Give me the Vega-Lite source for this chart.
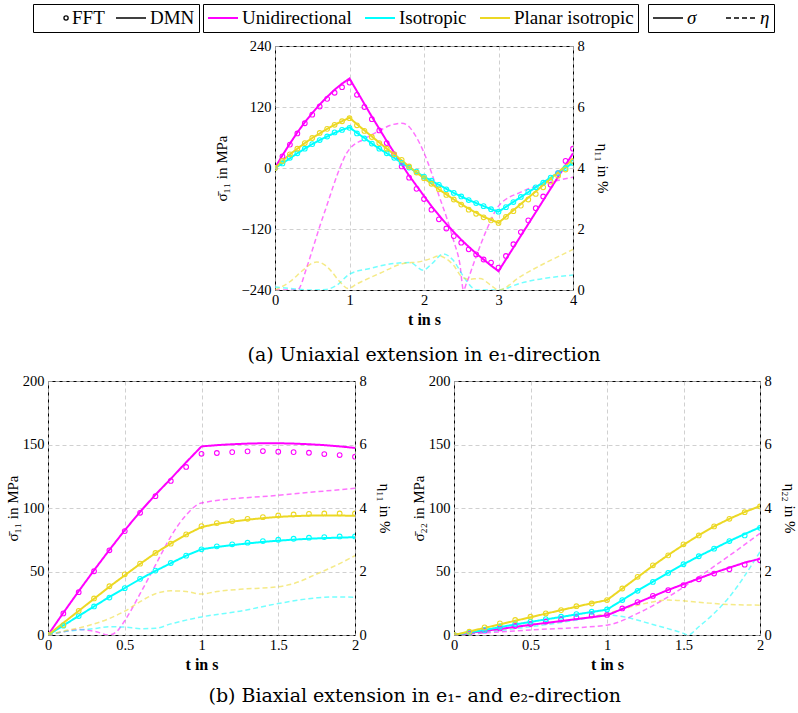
{
"$schema":"https://vega.github.io/schema/vega-lite/v6.json",
"padding":{"left":4,"top":3,"right":0,"bottom":0},
"background":"white",
"config":{
"font":"Liberation Serif",
"view":{"stroke":"black","strokeWidth":1},
"axis":{"labelFont":"Liberation Serif","labelFontSize":14.5,"labelColor":"black","titleFont":"Liberation Serif","titleFontSize":15,"titleFontWeight":"normal","titleColor":"black","domain":false,"ticks":false,"labelPadding":4,"labelFlush":false,"labelOverlap":false,"gridColor":"#c4c4c4","gridDash":[4,3],"gridWidth":0.8},
"legend":{"strokeColor":"black","strokeWidth":1,"padding":4,"clipHeight":20,"labelFont":"Liberation Serif","labelFontSize":19,"labelColor":"black","symbolSize":900,"labelOffset":3,"columnPadding":6,"symbolOpacity":1,"fillColor":"white","labelLimit":0},
"title":{"font":"DejaVu Serif","fontSize":19,"fontWeight":"normal","color":"black"}
},
"datasets":{
"top":[
{"t":0,"v":0,"s":"U","k":"σ"},{"t":0.1,"v":25,"s":"U","k":"σ"},{"t":0.2,"v":48,"s":"U","k":"σ"},{"t":0.3,"v":70,"s":"U","k":"σ"},{"t":0.4,"v":90,"s":"U","k":"σ"},{"t":0.5,"v":108,"s":"U","k":"σ"},{"t":0.6,"v":125,"s":"U","k":"σ"},{"t":0.7,"v":140,"s":"U","k":"σ"},{"t":0.8,"v":154,"s":"U","k":"σ"},{"t":0.9,"v":166,"s":"U","k":"σ"},{"t":1,"v":176,"s":"U","k":"σ"},{"t":1.1,"v":151,"s":"U","k":"σ"},{"t":1.2,"v":126,"s":"U","k":"σ"},{"t":1.3,"v":101,"s":"U","k":"σ"},{"t":1.4,"v":77,"s":"U","k":"σ"},{"t":1.5,"v":53,"s":"U","k":"σ"},{"t":1.6,"v":30,"s":"U","k":"σ"},{"t":1.7,"v":7,"s":"U","k":"σ"},{"t":1.8,"v":-15,"s":"U","k":"σ"},{"t":1.9,"v":-35,"s":"U","k":"σ"},{"t":2,"v":-55,"s":"U","k":"σ"},{"t":2.1,"v":-75,"s":"U","k":"σ"},{"t":2.2,"v":-93,"s":"U","k":"σ"},{"t":2.3,"v":-110,"s":"U","k":"σ"},{"t":2.4,"v":-126,"s":"U","k":"σ"},{"t":2.5,"v":-141,"s":"U","k":"σ"},{"t":2.6,"v":-155,"s":"U","k":"σ"},{"t":2.7,"v":-168,"s":"U","k":"σ"},{"t":2.8,"v":-180,"s":"U","k":"σ"},{"t":2.9,"v":-192,"s":"U","k":"σ"},{"t":3,"v":-203,"s":"U","k":"σ"},{"t":3.5,"v":-87,"s":"U","k":"σ"},{"t":4,"v":29,"s":"U","k":"σ"},
{"t":0,"v":0,"s":"I","k":"σ"},{"t":0.1,"v":9,"s":"I","k":"σ"},{"t":0.2,"v":19,"s":"I","k":"σ"},{"t":0.3,"v":29,"s":"I","k":"σ"},{"t":0.4,"v":38,"s":"I","k":"σ"},{"t":0.5,"v":47,"s":"I","k":"σ"},{"t":0.6,"v":55,"s":"I","k":"σ"},{"t":0.7,"v":62,"s":"I","k":"σ"},{"t":0.8,"v":69,"s":"I","k":"σ"},{"t":0.9,"v":75,"s":"I","k":"σ"},{"t":1,"v":80,"s":"I","k":"σ"},{"t":1.1,"v":69,"s":"I","k":"σ"},{"t":1.2,"v":59,"s":"I","k":"σ"},{"t":1.3,"v":48,"s":"I","k":"σ"},{"t":1.4,"v":38,"s":"I","k":"σ"},{"t":1.5,"v":29,"s":"I","k":"σ"},{"t":1.6,"v":20,"s":"I","k":"σ"},{"t":1.7,"v":10,"s":"I","k":"σ"},{"t":1.8,"v":1,"s":"I","k":"σ"},{"t":1.9,"v":-8,"s":"I","k":"σ"},{"t":2,"v":-17,"s":"I","k":"σ"},{"t":2.1,"v":-25,"s":"I","k":"σ"},{"t":2.2,"v":-33,"s":"I","k":"σ"},{"t":2.3,"v":-41,"s":"I","k":"σ"},{"t":2.4,"v":-49,"s":"I","k":"σ"},{"t":2.5,"v":-56,"s":"I","k":"σ"},{"t":2.6,"v":-63,"s":"I","k":"σ"},{"t":2.7,"v":-69,"s":"I","k":"σ"},{"t":2.8,"v":-75,"s":"I","k":"σ"},{"t":2.9,"v":-81,"s":"I","k":"σ"},{"t":3,"v":-86,"s":"I","k":"σ"},{"t":3.5,"v":-38,"s":"I","k":"σ"},{"t":4,"v":10,"s":"I","k":"σ"},
{"t":0,"v":0,"s":"P","k":"σ"},{"t":0.1,"v":14,"s":"P","k":"σ"},{"t":0.2,"v":27,"s":"P","k":"σ"},{"t":0.3,"v":38,"s":"P","k":"σ"},{"t":0.4,"v":49,"s":"P","k":"σ"},{"t":0.5,"v":59,"s":"P","k":"σ"},{"t":0.6,"v":68,"s":"P","k":"σ"},{"t":0.7,"v":77,"s":"P","k":"σ"},{"t":0.8,"v":85,"s":"P","k":"σ"},{"t":0.9,"v":92,"s":"P","k":"σ"},{"t":1,"v":99,"s":"P","k":"σ"},{"t":1.1,"v":86,"s":"P","k":"σ"},{"t":1.2,"v":74,"s":"P","k":"σ"},{"t":1.3,"v":62,"s":"P","k":"σ"},{"t":1.4,"v":50,"s":"P","k":"σ"},{"t":1.5,"v":38,"s":"P","k":"σ"},{"t":1.6,"v":27,"s":"P","k":"σ"},{"t":1.7,"v":15,"s":"P","k":"σ"},{"t":1.8,"v":3,"s":"P","k":"σ"},{"t":1.9,"v":-9,"s":"P","k":"σ"},{"t":2,"v":-20,"s":"P","k":"σ"},{"t":2.1,"v":-31,"s":"P","k":"σ"},{"t":2.2,"v":-42,"s":"P","k":"σ"},{"t":2.3,"v":-52,"s":"P","k":"σ"},{"t":2.4,"v":-62,"s":"P","k":"σ"},{"t":2.5,"v":-71,"s":"P","k":"σ"},{"t":2.6,"v":-80,"s":"P","k":"σ"},{"t":2.7,"v":-88,"s":"P","k":"σ"},{"t":2.8,"v":-96,"s":"P","k":"σ"},{"t":2.9,"v":-102,"s":"P","k":"σ"},{"t":3,"v":-108,"s":"P","k":"σ"},{"t":3.5,"v":-46,"s":"P","k":"σ"},{"t":4,"v":17,"s":"P","k":"σ"},
{"t":0,"v":0,"s":"U","k":"F"},{"t":0.1,"v":23,"s":"U","k":"F"},{"t":0.2,"v":46,"s":"U","k":"F"},{"t":0.3,"v":68,"s":"U","k":"F"},{"t":0.4,"v":88,"s":"U","k":"F"},{"t":0.5,"v":105,"s":"U","k":"F"},{"t":0.6,"v":121,"s":"U","k":"F"},{"t":0.7,"v":136,"s":"U","k":"F"},{"t":0.8,"v":148,"s":"U","k":"F"},{"t":0.9,"v":159,"s":"U","k":"F"},{"t":1,"v":168,"s":"U","k":"F"},{"t":1.1,"v":144,"s":"U","k":"F"},{"t":1.2,"v":120,"s":"U","k":"F"},{"t":1.3,"v":96,"s":"U","k":"F"},{"t":1.4,"v":74,"s":"U","k":"F"},{"t":1.5,"v":49,"s":"U","k":"F"},{"t":1.6,"v":27,"s":"U","k":"F"},{"t":1.7,"v":3,"s":"U","k":"F"},{"t":1.8,"v":-19,"s":"U","k":"F"},{"t":1.9,"v":-41,"s":"U","k":"F"},{"t":2,"v":-61,"s":"U","k":"F"},{"t":2.1,"v":-82,"s":"U","k":"F"},{"t":2.2,"v":-101,"s":"U","k":"F"},{"t":2.3,"v":-119,"s":"U","k":"F"},{"t":2.4,"v":-134,"s":"U","k":"F"},{"t":2.5,"v":-147,"s":"U","k":"F"},{"t":2.6,"v":-160,"s":"U","k":"F"},{"t":2.7,"v":-170,"s":"U","k":"F"},{"t":2.8,"v":-180,"s":"U","k":"F"},{"t":2.9,"v":-186,"s":"U","k":"F"},{"t":3,"v":-196,"s":"U","k":"F"},{"t":3.1,"v":-173,"s":"U","k":"F"},{"t":3.2,"v":-150,"s":"U","k":"F"},{"t":3.3,"v":-126,"s":"U","k":"F"},{"t":3.4,"v":-103,"s":"U","k":"F"},{"t":3.5,"v":-79,"s":"U","k":"F"},{"t":3.6,"v":-56,"s":"U","k":"F"},{"t":3.7,"v":-33,"s":"U","k":"F"},{"t":3.8,"v":-10,"s":"U","k":"F"},{"t":3.9,"v":14,"s":"U","k":"F"},{"t":4,"v":38,"s":"U","k":"F"},
{"t":0,"v":0,"s":"I","k":"F"},{"t":0.1,"v":9,"s":"I","k":"F"},{"t":0.2,"v":20,"s":"I","k":"F"},{"t":0.3,"v":29,"s":"I","k":"F"},{"t":0.4,"v":38,"s":"I","k":"F"},{"t":0.5,"v":47,"s":"I","k":"F"},{"t":0.6,"v":55,"s":"I","k":"F"},{"t":0.7,"v":62,"s":"I","k":"F"},{"t":0.8,"v":70,"s":"I","k":"F"},{"t":0.9,"v":75,"s":"I","k":"F"},{"t":1,"v":79,"s":"I","k":"F"},{"t":1.1,"v":68,"s":"I","k":"F"},{"t":1.2,"v":58,"s":"I","k":"F"},{"t":1.3,"v":48,"s":"I","k":"F"},{"t":1.4,"v":38,"s":"I","k":"F"},{"t":1.5,"v":29,"s":"I","k":"F"},{"t":1.6,"v":20,"s":"I","k":"F"},{"t":1.7,"v":10,"s":"I","k":"F"},{"t":1.8,"v":1,"s":"I","k":"F"},{"t":1.9,"v":-7,"s":"I","k":"F"},{"t":2,"v":-17,"s":"I","k":"F"},{"t":2.1,"v":-25,"s":"I","k":"F"},{"t":2.2,"v":-33,"s":"I","k":"F"},{"t":2.3,"v":-42,"s":"I","k":"F"},{"t":2.4,"v":-49,"s":"I","k":"F"},{"t":2.5,"v":-56,"s":"I","k":"F"},{"t":2.6,"v":-63,"s":"I","k":"F"},{"t":2.7,"v":-69,"s":"I","k":"F"},{"t":2.8,"v":-75,"s":"I","k":"F"},{"t":2.9,"v":-81,"s":"I","k":"F"},{"t":3,"v":-86,"s":"I","k":"F"},{"t":3.1,"v":-77,"s":"I","k":"F"},{"t":3.2,"v":-67,"s":"I","k":"F"},{"t":3.3,"v":-57,"s":"I","k":"F"},{"t":3.4,"v":-47,"s":"I","k":"F"},{"t":3.5,"v":-38,"s":"I","k":"F"},{"t":3.6,"v":-29,"s":"I","k":"F"},{"t":3.7,"v":-19,"s":"I","k":"F"},{"t":3.8,"v":-10,"s":"I","k":"F"},{"t":3.9,"v":0,"s":"I","k":"F"},{"t":4,"v":10,"s":"I","k":"F"},
{"t":0,"v":0,"s":"P","k":"F"},{"t":0.1,"v":14,"s":"P","k":"F"},{"t":0.2,"v":27,"s":"P","k":"F"},{"t":0.3,"v":38,"s":"P","k":"F"},{"t":0.4,"v":49,"s":"P","k":"F"},{"t":0.5,"v":59,"s":"P","k":"F"},{"t":0.6,"v":69,"s":"P","k":"F"},{"t":0.7,"v":77,"s":"P","k":"F"},{"t":0.8,"v":85,"s":"P","k":"F"},{"t":0.9,"v":92,"s":"P","k":"F"},{"t":1,"v":98,"s":"P","k":"F"},{"t":1.1,"v":84,"s":"P","k":"F"},{"t":1.2,"v":73,"s":"P","k":"F"},{"t":1.3,"v":61,"s":"P","k":"F"},{"t":1.4,"v":49,"s":"P","k":"F"},{"t":1.5,"v":38,"s":"P","k":"F"},{"t":1.6,"v":27,"s":"P","k":"F"},{"t":1.7,"v":16,"s":"P","k":"F"},{"t":1.8,"v":3,"s":"P","k":"F"},{"t":1.9,"v":-9,"s":"P","k":"F"},{"t":2,"v":-20,"s":"P","k":"F"},{"t":2.1,"v":-31,"s":"P","k":"F"},{"t":2.2,"v":-42,"s":"P","k":"F"},{"t":2.3,"v":-53,"s":"P","k":"F"},{"t":2.4,"v":-62,"s":"P","k":"F"},{"t":2.5,"v":-72,"s":"P","k":"F"},{"t":2.6,"v":-82,"s":"P","k":"F"},{"t":2.7,"v":-90,"s":"P","k":"F"},{"t":2.8,"v":-97,"s":"P","k":"F"},{"t":2.9,"v":-103,"s":"P","k":"F"},{"t":3,"v":-108,"s":"P","k":"F"},{"t":3.1,"v":-96,"s":"P","k":"F"},{"t":3.2,"v":-85,"s":"P","k":"F"},{"t":3.3,"v":-74,"s":"P","k":"F"},{"t":3.4,"v":-62,"s":"P","k":"F"},{"t":3.5,"v":-51,"s":"P","k":"F"},{"t":3.6,"v":-38,"s":"P","k":"F"},{"t":3.7,"v":-27,"s":"P","k":"F"},{"t":3.8,"v":-15,"s":"P","k":"F"},{"t":3.9,"v":-3,"s":"P","k":"F"},{"t":4,"v":14,"s":"P","k":"F"},
{"t":0,"v":0,"s":"U","k":"η"},{"t":0.3,"v":0,"s":"U","k":"η"},{"t":0.43,"v":0.77,"s":"U","k":"η"},{"t":0.5,"v":1.3,"s":"U","k":"η"},{"t":0.6,"v":2.08,"s":"U","k":"η"},{"t":0.7,"v":2.8,"s":"U","k":"η"},{"t":0.78,"v":3.39,"s":"U","k":"η"},{"t":0.87,"v":4.0,"s":"U","k":"η"},{"t":0.96,"v":4.48,"s":"U","k":"η"},{"t":1,"v":4.62,"s":"U","k":"η"},{"t":1.2,"v":4.95,"s":"U","k":"η"},{"t":1.4,"v":5.22,"s":"U","k":"η"},{"t":1.55,"v":5.4,"s":"U","k":"η"},{"t":1.7,"v":5.47,"s":"U","k":"η"},{"t":1.8,"v":5.35,"s":"U","k":"η"},{"t":1.9,"v":5.0,"s":"U","k":"η"},{"t":2,"v":4.5,"s":"U","k":"η"},{"t":2.1,"v":3.85,"s":"U","k":"η"},{"t":2.2,"v":3.1,"s":"U","k":"η"},{"t":2.3,"v":2.4,"s":"U","k":"η"},{"t":2.4,"v":1.6,"s":"U","k":"η"},{"t":2.48,"v":0.87,"s":"U","k":"η"},{"t":2.53,"v":0,"s":"U","k":"η"},{"t":2.57,"v":0.22,"s":"U","k":"η"},{"t":2.7,"v":1.1,"s":"U","k":"η"},{"t":2.84,"v":1.97,"s":"U","k":"η"},{"t":3,"v":2.75,"s":"U","k":"η"},{"t":3.29,"v":3.2,"s":"U","k":"η"},{"t":3.65,"v":3.5,"s":"U","k":"η"},{"t":4,"v":3.7,"s":"U","k":"η"},
{"t":0,"v":0.1,"s":"I","k":"η"},{"t":0.2,"v":0.05,"s":"I","k":"η"},{"t":0.47,"v":0,"s":"I","k":"η"},{"t":0.69,"v":0.02,"s":"I","k":"η"},{"t":0.83,"v":0.16,"s":"I","k":"η"},{"t":1,"v":0.52,"s":"I","k":"η"},{"t":1.28,"v":0.71,"s":"I","k":"η"},{"t":1.59,"v":0.87,"s":"I","k":"η"},{"t":1.81,"v":0.9,"s":"I","k":"η"},{"t":1.99,"v":0.65,"s":"I","k":"η"},{"t":2.1,"v":0.85,"s":"I","k":"η"},{"t":2.26,"v":1.18,"s":"I","k":"η"},{"t":2.39,"v":0.98,"s":"I","k":"η"},{"t":2.53,"v":0.44,"s":"I","k":"η"},{"t":2.66,"v":0.05,"s":"I","k":"η"},{"t":2.7,"v":0,"s":"I","k":"η"},{"t":3,"v":0,"s":"I","k":"η"},{"t":3.29,"v":0.22,"s":"I","k":"η"},{"t":4,"v":0.49,"s":"I","k":"η"},
{"t":0,"v":0,"s":"P","k":"η"},{"t":0.2,"v":0.27,"s":"P","k":"η"},{"t":0.38,"v":0.66,"s":"P","k":"η"},{"t":0.5,"v":0.88,"s":"P","k":"η"},{"t":0.56,"v":0.92,"s":"P","k":"η"},{"t":0.65,"v":0.85,"s":"P","k":"η"},{"t":0.74,"v":0.66,"s":"P","k":"η"},{"t":0.87,"v":0.27,"s":"P","k":"η"},{"t":0.98,"v":0.05,"s":"P","k":"η"},{"t":1.1,"v":0.2,"s":"P","k":"η"},{"t":1.41,"v":0.55,"s":"P","k":"η"},{"t":1.72,"v":0.87,"s":"P","k":"η"},{"t":1.95,"v":0.93,"s":"P","k":"η"},{"t":2.08,"v":1.02,"s":"P","k":"η"},{"t":2.21,"v":1.12,"s":"P","k":"η"},{"t":2.3,"v":1.02,"s":"P","k":"η"},{"t":2.4,"v":0.8,"s":"P","k":"η"},{"t":2.5,"v":0.45,"s":"P","k":"η"},{"t":2.6,"v":0.35,"s":"P","k":"η"},{"t":2.75,"v":0.38,"s":"P","k":"η"},{"t":2.9,"v":0.15,"s":"P","k":"η"},{"t":3,"v":0,"s":"P","k":"η"},{"t":3.3,"v":0.45,"s":"P","k":"η"},{"t":4,"v":1.33,"s":"P","k":"η"}
],
"bl":[
{"t":0,"v":0,"s":"U","k":"σ"},{"t":0.1,"v":17.5,"s":"U","k":"σ"},{"t":0.2,"v":34.5,"s":"U","k":"σ"},{"t":0.3,"v":51,"s":"U","k":"σ"},{"t":0.4,"v":67,"s":"U","k":"σ"},{"t":0.5,"v":82.5,"s":"U","k":"σ"},{"t":0.6,"v":97,"s":"U","k":"σ"},{"t":0.7,"v":110.5,"s":"U","k":"σ"},{"t":0.8,"v":123,"s":"U","k":"σ"},{"t":0.9,"v":136,"s":"U","k":"σ"},{"t":1,"v":148.5,"s":"U","k":"σ"},{"t":1.1,"v":149.5,"s":"U","k":"σ"},{"t":1.2,"v":150.2,"s":"U","k":"σ"},{"t":1.3,"v":150.7,"s":"U","k":"σ"},{"t":1.4,"v":151,"s":"U","k":"σ"},{"t":1.5,"v":151,"s":"U","k":"σ"},{"t":1.6,"v":150.7,"s":"U","k":"σ"},{"t":1.7,"v":150.2,"s":"U","k":"σ"},{"t":1.8,"v":149.5,"s":"U","k":"σ"},{"t":1.9,"v":148.5,"s":"U","k":"σ"},{"t":2,"v":147.3,"s":"U","k":"σ"},
{"t":0,"v":0,"s":"I","k":"σ"},{"t":0.1,"v":7.5,"s":"I","k":"σ"},{"t":0.2,"v":15,"s":"I","k":"σ"},{"t":0.3,"v":22.5,"s":"I","k":"σ"},{"t":0.4,"v":30,"s":"I","k":"σ"},{"t":0.5,"v":37,"s":"I","k":"σ"},{"t":0.6,"v":44,"s":"I","k":"σ"},{"t":0.7,"v":50.5,"s":"I","k":"σ"},{"t":0.8,"v":56.5,"s":"I","k":"σ"},{"t":0.9,"v":62.5,"s":"I","k":"σ"},{"t":1,"v":67.5,"s":"I","k":"σ"},{"t":1.1,"v":69.3,"s":"I","k":"σ"},{"t":1.2,"v":70.8,"s":"I","k":"σ"},{"t":1.3,"v":72.1,"s":"I","k":"σ"},{"t":1.4,"v":73.3,"s":"I","k":"σ"},{"t":1.5,"v":74.3,"s":"I","k":"σ"},{"t":1.6,"v":75.1,"s":"I","k":"σ"},{"t":1.7,"v":75.8,"s":"I","k":"σ"},{"t":1.8,"v":76.3,"s":"I","k":"σ"},{"t":1.9,"v":76.7,"s":"I","k":"σ"},{"t":2,"v":77,"s":"I","k":"σ"},
{"t":0,"v":0,"s":"P","k":"σ"},{"t":0.1,"v":9.5,"s":"P","k":"σ"},{"t":0.2,"v":19,"s":"P","k":"σ"},{"t":0.3,"v":28.5,"s":"P","k":"σ"},{"t":0.4,"v":38,"s":"P","k":"σ"},{"t":0.5,"v":47,"s":"P","k":"σ"},{"t":0.6,"v":56,"s":"P","k":"σ"},{"t":0.7,"v":64.5,"s":"P","k":"σ"},{"t":0.8,"v":72,"s":"P","k":"σ"},{"t":0.9,"v":79,"s":"P","k":"σ"},{"t":1,"v":85,"s":"P","k":"σ"},{"t":1.1,"v":87.5,"s":"P","k":"σ"},{"t":1.2,"v":89.3,"s":"P","k":"σ"},{"t":1.3,"v":90.8,"s":"P","k":"σ"},{"t":1.4,"v":92,"s":"P","k":"σ"},{"t":1.5,"v":93,"s":"P","k":"σ"},{"t":1.6,"v":93.6,"s":"P","k":"σ"},{"t":1.7,"v":94,"s":"P","k":"σ"},{"t":1.8,"v":94.2,"s":"P","k":"σ"},{"t":1.9,"v":94.1,"s":"P","k":"σ"},{"t":2,"v":93.8,"s":"P","k":"σ"},
{"t":0,"v":0,"s":"U","k":"F"},{"t":0.1,"v":17,"s":"U","k":"F"},{"t":0.2,"v":33.7,"s":"U","k":"F"},{"t":0.3,"v":50.2,"s":"U","k":"F"},{"t":0.4,"v":66.7,"s":"U","k":"F"},{"t":0.5,"v":81.8,"s":"U","k":"F"},{"t":0.6,"v":96.2,"s":"U","k":"F"},{"t":0.7,"v":109.3,"s":"U","k":"F"},{"t":0.8,"v":121.3,"s":"U","k":"F"},{"t":0.9,"v":132.3,"s":"U","k":"F"},{"t":1,"v":142.7,"s":"U","k":"F"},{"t":1.1,"v":143.3,"s":"U","k":"F"},{"t":1.2,"v":144,"s":"U","k":"F"},{"t":1.3,"v":144.6,"s":"U","k":"F"},{"t":1.4,"v":144.8,"s":"U","k":"F"},{"t":1.5,"v":144.3,"s":"U","k":"F"},{"t":1.6,"v":144,"s":"U","k":"F"},{"t":1.7,"v":143.5,"s":"U","k":"F"},{"t":1.8,"v":142.5,"s":"U","k":"F"},{"t":1.9,"v":141.7,"s":"U","k":"F"},{"t":2,"v":140.4,"s":"U","k":"F"},
{"t":0,"v":0,"s":"I","k":"F"},{"t":0.1,"v":7.3,"s":"I","k":"F"},{"t":0.2,"v":14.9,"s":"I","k":"F"},{"t":0.3,"v":22.5,"s":"I","k":"F"},{"t":0.4,"v":29.5,"s":"I","k":"F"},{"t":0.5,"v":36.9,"s":"I","k":"F"},{"t":0.6,"v":44.2,"s":"I","k":"F"},{"t":0.7,"v":50.7,"s":"I","k":"F"},{"t":0.8,"v":56.7,"s":"I","k":"F"},{"t":0.9,"v":62.5,"s":"I","k":"F"},{"t":1,"v":67.5,"s":"I","k":"F"},{"t":1.1,"v":69.8,"s":"I","k":"F"},{"t":1.2,"v":71.4,"s":"I","k":"F"},{"t":1.3,"v":72.7,"s":"I","k":"F"},{"t":1.4,"v":74,"s":"I","k":"F"},{"t":1.5,"v":75,"s":"I","k":"F"},{"t":1.6,"v":75.8,"s":"I","k":"F"},{"t":1.7,"v":76.6,"s":"I","k":"F"},{"t":1.8,"v":77.1,"s":"I","k":"F"},{"t":1.9,"v":77.6,"s":"I","k":"F"},{"t":2,"v":77.6,"s":"I","k":"F"},
{"t":0,"v":0,"s":"P","k":"F"},{"t":0.1,"v":7.8,"s":"P","k":"F"},{"t":0.2,"v":19,"s":"P","k":"F"},{"t":0.3,"v":28.8,"s":"P","k":"F"},{"t":0.4,"v":38.4,"s":"P","k":"F"},{"t":0.5,"v":47.8,"s":"P","k":"F"},{"t":0.6,"v":56.2,"s":"P","k":"F"},{"t":0.7,"v":64.6,"s":"P","k":"F"},{"t":0.8,"v":71.9,"s":"P","k":"F"},{"t":0.9,"v":79.2,"s":"P","k":"F"},{"t":1,"v":85.8,"s":"P","k":"F"},{"t":1.1,"v":88.1,"s":"P","k":"F"},{"t":1.2,"v":89.7,"s":"P","k":"F"},{"t":1.3,"v":91.5,"s":"P","k":"F"},{"t":1.4,"v":92.8,"s":"P","k":"F"},{"t":1.5,"v":94.1,"s":"P","k":"F"},{"t":1.6,"v":94.9,"s":"P","k":"F"},{"t":1.7,"v":95.4,"s":"P","k":"F"},{"t":1.8,"v":95.7,"s":"P","k":"F"},{"t":1.9,"v":95.7,"s":"P","k":"F"},{"t":2,"v":95.7,"s":"P","k":"F"},
{"t":0,"v":0,"s":"U","k":"η"},{"t":0.1,"v":0.1,"s":"U","k":"η"},{"t":0.2,"v":0.17,"s":"U","k":"η"},{"t":0.3,"v":0.12,"s":"U","k":"η"},{"t":0.4,"v":0,"s":"U","k":"η"},{"t":0.45,"v":0.12,"s":"U","k":"η"},{"t":0.5,"v":0.45,"s":"U","k":"η"},{"t":0.6,"v":1.3,"s":"U","k":"η"},{"t":0.7,"v":2.2,"s":"U","k":"η"},{"t":0.8,"v":3.1,"s":"U","k":"η"},{"t":0.9,"v":3.78,"s":"U","k":"η"},{"t":1,"v":4.16,"s":"U","k":"η"},{"t":1.5,"v":4.4,"s":"U","k":"η"},{"t":2,"v":4.62,"s":"U","k":"η"},
{"t":0,"v":0,"s":"I","k":"η"},{"t":0.1,"v":0.1,"s":"I","k":"η"},{"t":0.2,"v":0.16,"s":"I","k":"η"},{"t":0.3,"v":0.2,"s":"I","k":"η"},{"t":0.4,"v":0.26,"s":"I","k":"η"},{"t":0.5,"v":0.25,"s":"I","k":"η"},{"t":0.6,"v":0.2,"s":"I","k":"η"},{"t":0.7,"v":0.21,"s":"I","k":"η"},{"t":0.8,"v":0.35,"s":"I","k":"η"},{"t":1,"v":0.57,"s":"I","k":"η"},{"t":1.25,"v":0.75,"s":"I","k":"η"},{"t":1.5,"v":0.99,"s":"I","k":"η"},{"t":1.75,"v":1.17,"s":"I","k":"η"},{"t":1.85,"v":1.2,"s":"I","k":"η"},{"t":2,"v":1.19,"s":"I","k":"η"},
{"t":0,"v":0,"s":"P","k":"η"},{"t":0.1,"v":0.12,"s":"P","k":"η"},{"t":0.25,"v":0.28,"s":"P","k":"η"},{"t":0.4,"v":0.52,"s":"P","k":"η"},{"t":0.5,"v":0.75,"s":"P","k":"η"},{"t":0.6,"v":1.05,"s":"P","k":"η"},{"t":0.7,"v":1.3,"s":"P","k":"η"},{"t":0.8,"v":1.39,"s":"P","k":"η"},{"t":0.9,"v":1.37,"s":"P","k":"η"},{"t":1,"v":1.29,"s":"P","k":"η"},{"t":1.1,"v":1.37,"s":"P","k":"η"},{"t":1.25,"v":1.44,"s":"P","k":"η"},{"t":1.5,"v":1.52,"s":"P","k":"η"},{"t":1.6,"v":1.62,"s":"P","k":"η"},{"t":1.75,"v":1.92,"s":"P","k":"η"},{"t":1.9,"v":2.25,"s":"P","k":"η"},{"t":2,"v":2.5,"s":"P","k":"η"}
],
"br":[
{"t":0,"v":0,"s":"U","k":"σ"},{"t":0.1,"v":1.6,"s":"U","k":"σ"},{"t":0.2,"v":3.2,"s":"U","k":"σ"},{"t":0.3,"v":4.8,"s":"U","k":"σ"},{"t":0.4,"v":6.4,"s":"U","k":"σ"},{"t":0.5,"v":8,"s":"U","k":"σ"},{"t":0.6,"v":9.5,"s":"U","k":"σ"},{"t":0.7,"v":11,"s":"U","k":"σ"},{"t":0.8,"v":12.5,"s":"U","k":"σ"},{"t":0.9,"v":14,"s":"U","k":"σ"},{"t":1,"v":15.5,"s":"U","k":"σ"},{"t":1.1,"v":20.5,"s":"U","k":"σ"},{"t":1.2,"v":25.5,"s":"U","k":"σ"},{"t":1.3,"v":30.5,"s":"U","k":"σ"},{"t":1.4,"v":35.5,"s":"U","k":"σ"},{"t":1.5,"v":40,"s":"U","k":"σ"},{"t":1.6,"v":44.5,"s":"U","k":"σ"},{"t":1.7,"v":49,"s":"U","k":"σ"},{"t":1.8,"v":53,"s":"U","k":"σ"},{"t":1.9,"v":57,"s":"U","k":"σ"},{"t":2,"v":60,"s":"U","k":"σ"},
{"t":0,"v":0,"s":"I","k":"σ"},{"t":0.1,"v":2,"s":"I","k":"σ"},{"t":0.2,"v":4,"s":"I","k":"σ"},{"t":0.3,"v":6.2,"s":"I","k":"σ"},{"t":0.4,"v":8.3,"s":"I","k":"σ"},{"t":0.5,"v":10.3,"s":"I","k":"σ"},{"t":0.6,"v":12.3,"s":"I","k":"σ"},{"t":0.7,"v":14.2,"s":"I","k":"σ"},{"t":0.8,"v":16.2,"s":"I","k":"σ"},{"t":0.9,"v":18.1,"s":"I","k":"σ"},{"t":1,"v":20,"s":"I","k":"σ"},{"t":1.1,"v":27.5,"s":"I","k":"σ"},{"t":1.2,"v":35,"s":"I","k":"σ"},{"t":1.3,"v":42,"s":"I","k":"σ"},{"t":1.4,"v":49,"s":"I","k":"σ"},{"t":1.5,"v":55.7,"s":"I","k":"σ"},{"t":1.6,"v":62,"s":"I","k":"σ"},{"t":1.7,"v":68,"s":"I","k":"σ"},{"t":1.8,"v":74,"s":"I","k":"σ"},{"t":1.9,"v":79.5,"s":"I","k":"σ"},{"t":2,"v":84.8,"s":"I","k":"σ"},
{"t":0,"v":0,"s":"P","k":"σ"},{"t":0.1,"v":2.8,"s":"P","k":"σ"},{"t":0.2,"v":5.6,"s":"P","k":"σ"},{"t":0.3,"v":8.4,"s":"P","k":"σ"},{"t":0.4,"v":11.2,"s":"P","k":"σ"},{"t":0.5,"v":14,"s":"P","k":"σ"},{"t":0.6,"v":16.8,"s":"P","k":"σ"},{"t":0.7,"v":19.6,"s":"P","k":"σ"},{"t":0.8,"v":22.3,"s":"P","k":"σ"},{"t":0.9,"v":25,"s":"P","k":"σ"},{"t":1,"v":27.5,"s":"P","k":"σ"},{"t":1.1,"v":36.5,"s":"P","k":"σ"},{"t":1.2,"v":45.5,"s":"P","k":"σ"},{"t":1.3,"v":54.5,"s":"P","k":"σ"},{"t":1.4,"v":63,"s":"P","k":"σ"},{"t":1.5,"v":71,"s":"P","k":"σ"},{"t":1.6,"v":78.5,"s":"P","k":"σ"},{"t":1.7,"v":85.5,"s":"P","k":"σ"},{"t":1.8,"v":91.5,"s":"P","k":"σ"},{"t":1.9,"v":96.8,"s":"P","k":"σ"},{"t":2,"v":101.5,"s":"P","k":"σ"},
{"t":0,"v":0,"s":"U","k":"F"},{"t":0.1,"v":1.3,"s":"U","k":"F"},{"t":0.2,"v":3.4,"s":"U","k":"F"},{"t":0.3,"v":5.2,"s":"U","k":"F"},{"t":0.4,"v":7.1,"s":"U","k":"F"},{"t":0.5,"v":8.6,"s":"U","k":"F"},{"t":0.6,"v":10.5,"s":"U","k":"F"},{"t":0.7,"v":12.3,"s":"U","k":"F"},{"t":0.8,"v":13.9,"s":"U","k":"F"},{"t":0.9,"v":15.4,"s":"U","k":"F"},{"t":1,"v":15.8,"s":"U","k":"F"},{"t":1.1,"v":20.9,"s":"U","k":"F"},{"t":1.2,"v":25.9,"s":"U","k":"F"},{"t":1.3,"v":30.8,"s":"U","k":"F"},{"t":1.4,"v":35.3,"s":"U","k":"F"},{"t":1.5,"v":39.2,"s":"U","k":"F"},{"t":1.6,"v":43.9,"s":"U","k":"F"},{"t":1.7,"v":48.4,"s":"U","k":"F"},{"t":1.8,"v":51.8,"s":"U","k":"F"},{"t":1.9,"v":55.4,"s":"U","k":"F"},{"t":2,"v":58.8,"s":"U","k":"F"},
{"t":0,"v":0,"s":"I","k":"F"},{"t":0.1,"v":2,"s":"I","k":"F"},{"t":0.2,"v":3.9,"s":"I","k":"F"},{"t":0.3,"v":6.5,"s":"I","k":"F"},{"t":0.4,"v":8.6,"s":"I","k":"F"},{"t":0.5,"v":10.5,"s":"I","k":"F"},{"t":0.6,"v":12.5,"s":"I","k":"F"},{"t":0.7,"v":14.4,"s":"I","k":"F"},{"t":0.8,"v":16.5,"s":"I","k":"F"},{"t":0.9,"v":18.3,"s":"I","k":"F"},{"t":1,"v":20.1,"s":"I","k":"F"},{"t":1.1,"v":27.5,"s":"I","k":"F"},{"t":1.2,"v":34.8,"s":"I","k":"F"},{"t":1.3,"v":41.8,"s":"I","k":"F"},{"t":1.4,"v":48.9,"s":"I","k":"F"},{"t":1.5,"v":55.7,"s":"I","k":"F"},{"t":1.6,"v":62,"s":"I","k":"F"},{"t":1.7,"v":68,"s":"I","k":"F"},{"t":1.8,"v":74,"s":"I","k":"F"},{"t":1.9,"v":78.4,"s":"I","k":"F"},{"t":2,"v":84.4,"s":"I","k":"F"},
{"t":0,"v":0,"s":"P","k":"F"},{"t":0.1,"v":2.6,"s":"P","k":"F"},{"t":0.2,"v":6,"s":"P","k":"F"},{"t":0.3,"v":9.2,"s":"P","k":"F"},{"t":0.4,"v":11.8,"s":"P","k":"F"},{"t":0.5,"v":14.4,"s":"P","k":"F"},{"t":0.6,"v":17,"s":"P","k":"F"},{"t":0.7,"v":19.6,"s":"P","k":"F"},{"t":0.8,"v":22.7,"s":"P","k":"F"},{"t":0.9,"v":24.8,"s":"P","k":"F"},{"t":1,"v":27.5,"s":"P","k":"F"},{"t":1.1,"v":36.6,"s":"P","k":"F"},{"t":1.2,"v":45.8,"s":"P","k":"F"},{"t":1.3,"v":54.9,"s":"P","k":"F"},{"t":1.4,"v":62.7,"s":"P","k":"F"},{"t":1.5,"v":71.4,"s":"P","k":"F"},{"t":1.6,"v":78.4,"s":"P","k":"F"},{"t":1.7,"v":85.5,"s":"P","k":"F"},{"t":1.8,"v":91.5,"s":"P","k":"F"},{"t":1.9,"v":96.7,"s":"P","k":"F"},{"t":2,"v":101.2,"s":"P","k":"F"},
{"t":0,"v":0,"s":"U","k":"η"},{"t":0.5,"v":0.16,"s":"U","k":"η"},{"t":1,"v":0.31,"s":"U","k":"η"},{"t":1.2,"v":0.68,"s":"U","k":"η"},{"t":1.4,"v":1.2,"s":"U","k":"η"},{"t":1.6,"v":1.83,"s":"U","k":"η"},{"t":1.8,"v":2.5,"s":"U","k":"η"},{"t":2,"v":3.2,"s":"U","k":"η"},
{"t":0,"v":0,"s":"I","k":"η"},{"t":0.5,"v":0.26,"s":"I","k":"η"},{"t":0.8,"v":0.47,"s":"I","k":"η"},{"t":1,"v":0.63,"s":"I","k":"η"},{"t":1.1,"v":0.58,"s":"I","k":"η"},{"t":1.3,"v":0.33,"s":"I","k":"η"},{"t":1.5,"v":0.05,"s":"I","k":"η"},{"t":1.53,"v":0,"s":"I","k":"η"},{"t":1.6,"v":0.26,"s":"I","k":"η"},{"t":1.8,"v":1.2,"s":"I","k":"η"},{"t":2,"v":2.62,"s":"I","k":"η"},
{"t":0,"v":0,"s":"P","k":"η"},{"t":0.5,"v":0.31,"s":"P","k":"η"},{"t":1,"v":0.68,"s":"P","k":"η"},{"t":1.2,"v":0.94,"s":"P","k":"η"},{"t":1.4,"v":1.1,"s":"P","k":"η"},{"t":1.6,"v":1.03,"s":"P","k":"η"},{"t":1.8,"v":0.96,"s":"P","k":"η"},{"t":2,"v":0.94,"s":"P","k":"η"}
]
},
"spacing":7,
"vconcat":[
{"spacing":0,"hconcat":[
{"width":165,"height":10,"view":{"stroke":null},"data":{"values":[{"t":0}]},"mark":{"type":"point","opacity":0},"encoding":{}},
{"width":298,"height":244,"data":{"name":"top"},
"title":{"text":"(a) Uniaxial extension in e₁-direction","orient":"bottom","frame":"group","anchor":"middle","offset":18},
"layer":[
{"transform":[{"filter":"datum.k==='η'"}],"mark":{"type":"line","strokeWidth":1.5,"opacity":0.55,"interpolate":"monotone","clip":true},
"encoding":{
"x":{"field":"t","type":"quantitative","scale":{"domain":[0,4],"nice":false},"axis":{"title":"t in s","titleFont":"Liberation Serif","titleFontWeight":"bold","titleFontSize":16,"values":[0,1,2,3,4],"format":"~g","grid":true,"labelPadding":3,"titlePadding":5}},
"y":{"field":"v","type":"quantitative","scale":{"domain":[0,8],"nice":false},"axis":{"orient":"right","title":"η₁₁ in %","titleFont":"Liberation Serif","values":[0,2,4,6,8],"format":"d","grid":false,"titlePadding":10}},
"color":{"field":"s","type":"nominal","scale":{"domain":["U","I","P"],"range":["#ff00ff","#00ffff","#ecd824"]},"legend":{"title":null,"orient":"none","legendX":155,"legendY":-42,"direction":"horizontal","symbolType":"stroke","symbolStrokeWidth":2,"columnPadding":12,"symbolOpacity":1,"labelExpr":"datum.label==='U'?'Unidirectional':datum.label==='I'?'Isotropic':'Planar isotropic'"}},
"strokeDash":{"field":"k","type":"nominal","scale":{"domain":["σ","η"],"range":[[1,0],[5,3]]},"legend":{"title":null,"orient":"none","legendX":600,"legendY":-42,"direction":"horizontal","symbolType":"stroke","symbolStrokeColor":"black","symbolStrokeWidth":1.5,"labelFontStyle":"italic","columnPadding":28,"symbolOpacity":1}}
}},
{"layer":[
{"transform":[{"filter":"datum.k==='σ'"}],"mark":{"type":"line","strokeWidth":2,"clip":true},
"encoding":{
"x":{"field":"t","type":"quantitative","scale":{"domain":[0,4],"nice":false},"axis":{"title":"t in s","titleFont":"Liberation Serif","titleFontWeight":"bold","titleFontSize":16,"values":[0,1,2,3,4],"format":"~g","grid":true,"labelPadding":3,"titlePadding":5}},
"y":{"field":"v","type":"quantitative","scale":{"domain":[-240,240],"nice":false,"zero":false},"axis":{"orient":"left","title":"σ̄₁₁ in MPa","titleFont":"Liberation Serif","values":[-240,-120,0,120,240],"format":"d","grid":true,"titlePadding":12}},
"color":{"field":"s","type":"nominal","scale":{"domain":["U","I","P"],"range":["#ff00ff","#00ffff","#ecd824"]},"legend":{"title":null,"orient":"none","legendX":155,"legendY":-42,"direction":"horizontal","symbolType":"stroke","symbolStrokeWidth":2,"columnPadding":12,"symbolOpacity":1,"labelExpr":"datum.label==='U'?'Unidirectional':datum.label==='I'?'Isotropic':'Planar isotropic'"}},
"strokeDash":{"field":"k","type":"nominal","scale":{"domain":["σ","η"],"range":[[1,0],[5,3]]},"legend":{"title":null,"orient":"none","legendX":600,"legendY":-42,"direction":"horizontal","symbolType":"stroke","symbolStrokeColor":"black","symbolStrokeWidth":1.5,"labelFontStyle":"italic","columnPadding":28,"symbolOpacity":1}}
}},
{"transform":[{"filter":"datum.k==='F'"}],"mark":{"type":"point","shape":"circle","filled":false,"size":22,"strokeWidth":1.1,"opacity":1,"clip":true},
"encoding":{
"x":{"field":"t","type":"quantitative","scale":{"domain":[0,4],"nice":false},"axis":{"title":"t in s","titleFont":"Liberation Serif","titleFontWeight":"bold","titleFontSize":16,"values":[0,1,2,3,4],"format":"~g","grid":true,"labelPadding":3,"titlePadding":5}},
"y":{"field":"v","type":"quantitative","scale":{"domain":[-240,240],"nice":false,"zero":false},"axis":{"orient":"left","title":"σ̄₁₁ in MPa","titleFont":"Liberation Serif","values":[-240,-120,0,120,240],"format":"d","grid":true,"titlePadding":12}},
"color":{"field":"s","type":"nominal","scale":{"domain":["U","I","P"],"range":["#ff00ff","#00ffff","#ecd824"]},"legend":{"title":null,"orient":"none","legendX":155,"legendY":-42,"direction":"horizontal","symbolType":"stroke","symbolStrokeWidth":2,"columnPadding":12,"symbolOpacity":1,"labelExpr":"datum.label==='U'?'Unidirectional':datum.label==='I'?'Isotropic':'Planar isotropic'"}}
}},
{"transform":[{"filter":"datum.k==='F'"}],"mark":{"type":"point","filled":false,"color":"black","opacity":0,"clip":true},
"encoding":{
"x":{"field":"t","type":"quantitative","scale":{"domain":[0,4],"nice":false},"axis":{"title":"t in s","titleFont":"Liberation Serif","titleFontWeight":"bold","titleFontSize":16,"values":[0,1,2,3,4],"format":"~g","grid":true,"labelPadding":3,"titlePadding":5}},
"y":{"field":"v","type":"quantitative","scale":{"domain":[-240,240],"nice":false,"zero":false},"axis":{"orient":"left","title":"σ̄₁₁ in MPa","titleFont":"Liberation Serif","values":[-240,-120,0,120,240],"format":"d","grid":true,"titlePadding":12}},
"shape":{"field":"k","type":"nominal","scale":{"domain":["F","D"],"range":["M0.73,0A0.14,0.14,0,1,1,1.01,0A0.14,0.14,0,1,1,0.73,0Z","M-1,0L1,0"]},"legend":{"title":null,"orient":"none","legendX":-15,"legendY":-42,"direction":"horizontal","symbolStrokeColor":"black","symbolFillColor":"transparent","symbolStrokeWidth":1.3,"symbolOpacity":1,"columnPadding":10,"labelExpr":"datum.label==='F'?'FFT':'DMN'"}}
}}
]}
],
"resolve":{"scale":{"y":"independent"}}
}
]},
{"spacing":18,
"title":{"text":"(b) Biaxial extension in e₁- and e₂-direction","orient":"bottom","anchor":"middle","offset":14,"dx":14},
"hconcat":[
{"width":307,"height":254,"data":{"name":"bl"},
"layer":[
{"transform":[{"filter":"datum.k==='η'"}],"mark":{"type":"line","strokeWidth":1.5,"opacity":0.55,"interpolate":"monotone","clip":true},
"encoding":{
"x":{"field":"t","type":"quantitative","scale":{"domain":[0,2],"nice":false},"axis":{"title":"t in s","titleFont":"Liberation Serif","titleFontWeight":"bold","titleFontSize":16,"values":[0,0.5,1,1.5,2],"format":"~g","grid":true,"labelPadding":3,"titlePadding":5}},
"y":{"field":"v","type":"quantitative","scale":{"domain":[0,8],"nice":false},"axis":{"orient":"right","title":"η₁₁ in %","titleFont":"Liberation Serif","values":[0,2,4,6,8],"format":"d","grid":false,"titlePadding":10}},
"color":{"field":"s","type":"nominal","scale":{"domain":["U","I","P"],"range":["#ff00ff","#00ffff","#ecd824"]},"legend":{"title":null,"orient":"none","legendX":155,"legendY":-42,"direction":"horizontal","symbolType":"stroke","symbolStrokeWidth":2,"columnPadding":12,"symbolOpacity":1,"labelExpr":"datum.label==='U'?'Unidirectional':datum.label==='I'?'Isotropic':'Planar isotropic'"}},
"strokeDash":{"field":"k","type":"nominal","scale":{"domain":["σ","η"],"range":[[1,0],[5,3]]},"legend":{"title":null,"orient":"none","legendX":600,"legendY":-42,"direction":"horizontal","symbolType":"stroke","symbolStrokeColor":"black","symbolStrokeWidth":1.5,"labelFontStyle":"italic","columnPadding":28,"symbolOpacity":1}}
}},
{"layer":[
{"transform":[{"filter":"datum.k==='σ'"}],"mark":{"type":"line","strokeWidth":2,"clip":true},
"encoding":{
"x":{"field":"t","type":"quantitative","scale":{"domain":[0,2],"nice":false},"axis":{"title":"t in s","titleFont":"Liberation Serif","titleFontWeight":"bold","titleFontSize":16,"values":[0,0.5,1,1.5,2],"format":"~g","grid":true,"labelPadding":3,"titlePadding":5}},
"y":{"field":"v","type":"quantitative","scale":{"domain":[0,200],"nice":false},"axis":{"orient":"left","title":"σ̄₁₁ in MPa","titleFont":"Liberation Serif","values":[0,50,100,150,200],"format":"d","grid":true,"titlePadding":2}},
"color":{"field":"s","type":"nominal","scale":{"domain":["U","I","P"],"range":["#ff00ff","#00ffff","#ecd824"]},"legend":{"title":null,"orient":"none","legendX":155,"legendY":-42,"direction":"horizontal","symbolType":"stroke","symbolStrokeWidth":2,"columnPadding":12,"symbolOpacity":1,"labelExpr":"datum.label==='U'?'Unidirectional':datum.label==='I'?'Isotropic':'Planar isotropic'"}},
"strokeDash":{"field":"k","type":"nominal","scale":{"domain":["σ","η"],"range":[[1,0],[5,3]]},"legend":{"title":null,"orient":"none","legendX":600,"legendY":-42,"direction":"horizontal","symbolType":"stroke","symbolStrokeColor":"black","symbolStrokeWidth":1.5,"labelFontStyle":"italic","columnPadding":28,"symbolOpacity":1}}
}},
{"transform":[{"filter":"datum.k==='F'"}],"mark":{"type":"point","shape":"circle","filled":false,"size":22,"strokeWidth":1.1,"opacity":1,"clip":true},
"encoding":{
"x":{"field":"t","type":"quantitative","scale":{"domain":[0,2],"nice":false},"axis":{"title":"t in s","titleFont":"Liberation Serif","titleFontWeight":"bold","titleFontSize":16,"values":[0,0.5,1,1.5,2],"format":"~g","grid":true,"labelPadding":3,"titlePadding":5}},
"y":{"field":"v","type":"quantitative","scale":{"domain":[0,200],"nice":false},"axis":{"orient":"left","title":"σ̄₁₁ in MPa","titleFont":"Liberation Serif","values":[0,50,100,150,200],"format":"d","grid":true,"titlePadding":2}},
"color":{"field":"s","type":"nominal","scale":{"domain":["U","I","P"],"range":["#ff00ff","#00ffff","#ecd824"]},"legend":{"title":null,"orient":"none","legendX":155,"legendY":-42,"direction":"horizontal","symbolType":"stroke","symbolStrokeWidth":2,"columnPadding":12,"symbolOpacity":1,"labelExpr":"datum.label==='U'?'Unidirectional':datum.label==='I'?'Isotropic':'Planar isotropic'"}}
}}
]}
],
"resolve":{"scale":{"y":"independent"}}
},
{"width":306,"height":254,"data":{"name":"br"},
"layer":[
{"transform":[{"filter":"datum.k==='η'"}],"mark":{"type":"line","strokeWidth":1.5,"opacity":0.55,"interpolate":"monotone","clip":true},
"encoding":{
"x":{"field":"t","type":"quantitative","scale":{"domain":[0,2],"nice":false},"axis":{"title":"t in s","titleFont":"Liberation Serif","titleFontWeight":"bold","titleFontSize":16,"values":[0,0.5,1,1.5,2],"format":"~g","grid":true,"labelPadding":3,"titlePadding":5}},
"y":{"field":"v","type":"quantitative","scale":{"domain":[0,8],"nice":false},"axis":{"orient":"right","title":"η₂₂ in %","titleFont":"Liberation Serif","values":[0,2,4,6,8],"format":"d","grid":false,"titlePadding":10}},
"color":{"field":"s","type":"nominal","scale":{"domain":["U","I","P"],"range":["#ff00ff","#00ffff","#ecd824"]},"legend":{"title":null,"orient":"none","legendX":155,"legendY":-42,"direction":"horizontal","symbolType":"stroke","symbolStrokeWidth":2,"columnPadding":12,"symbolOpacity":1,"labelExpr":"datum.label==='U'?'Unidirectional':datum.label==='I'?'Isotropic':'Planar isotropic'"}},
"strokeDash":{"field":"k","type":"nominal","scale":{"domain":["σ","η"],"range":[[1,0],[5,3]]},"legend":{"title":null,"orient":"none","legendX":600,"legendY":-42,"direction":"horizontal","symbolType":"stroke","symbolStrokeColor":"black","symbolStrokeWidth":1.5,"labelFontStyle":"italic","columnPadding":28,"symbolOpacity":1}}
}},
{"layer":[
{"transform":[{"filter":"datum.k==='σ'"}],"mark":{"type":"line","strokeWidth":2,"clip":true},
"encoding":{
"x":{"field":"t","type":"quantitative","scale":{"domain":[0,2],"nice":false},"axis":{"title":"t in s","titleFont":"Liberation Serif","titleFontWeight":"bold","titleFontSize":16,"values":[0,0.5,1,1.5,2],"format":"~g","grid":true,"labelPadding":3,"titlePadding":5}},
"y":{"field":"v","type":"quantitative","scale":{"domain":[0,200],"nice":false},"axis":{"orient":"left","title":"σ̄₂₂ in MPa","titleFont":"Liberation Serif","values":[0,50,100,150,200],"format":"d","grid":true,"titlePadding":2}},
"color":{"field":"s","type":"nominal","scale":{"domain":["U","I","P"],"range":["#ff00ff","#00ffff","#ecd824"]},"legend":{"title":null,"orient":"none","legendX":155,"legendY":-42,"direction":"horizontal","symbolType":"stroke","symbolStrokeWidth":2,"columnPadding":12,"symbolOpacity":1,"labelExpr":"datum.label==='U'?'Unidirectional':datum.label==='I'?'Isotropic':'Planar isotropic'"}},
"strokeDash":{"field":"k","type":"nominal","scale":{"domain":["σ","η"],"range":[[1,0],[5,3]]},"legend":{"title":null,"orient":"none","legendX":600,"legendY":-42,"direction":"horizontal","symbolType":"stroke","symbolStrokeColor":"black","symbolStrokeWidth":1.5,"labelFontStyle":"italic","columnPadding":28,"symbolOpacity":1}}
}},
{"transform":[{"filter":"datum.k==='F'"}],"mark":{"type":"point","shape":"circle","filled":false,"size":22,"strokeWidth":1.1,"opacity":1,"clip":true},
"encoding":{
"x":{"field":"t","type":"quantitative","scale":{"domain":[0,2],"nice":false},"axis":{"title":"t in s","titleFont":"Liberation Serif","titleFontWeight":"bold","titleFontSize":16,"values":[0,0.5,1,1.5,2],"format":"~g","grid":true,"labelPadding":3,"titlePadding":5}},
"y":{"field":"v","type":"quantitative","scale":{"domain":[0,200],"nice":false},"axis":{"orient":"left","title":"σ̄₂₂ in MPa","titleFont":"Liberation Serif","values":[0,50,100,150,200],"format":"d","grid":true,"titlePadding":2}},
"color":{"field":"s","type":"nominal","scale":{"domain":["U","I","P"],"range":["#ff00ff","#00ffff","#ecd824"]},"legend":{"title":null,"orient":"none","legendX":155,"legendY":-42,"direction":"horizontal","symbolType":"stroke","symbolStrokeWidth":2,"columnPadding":12,"symbolOpacity":1,"labelExpr":"datum.label==='U'?'Unidirectional':datum.label==='I'?'Isotropic':'Planar isotropic'"}}
}}
]}
],
"resolve":{"scale":{"y":"independent"}}
}
]}
]
}
